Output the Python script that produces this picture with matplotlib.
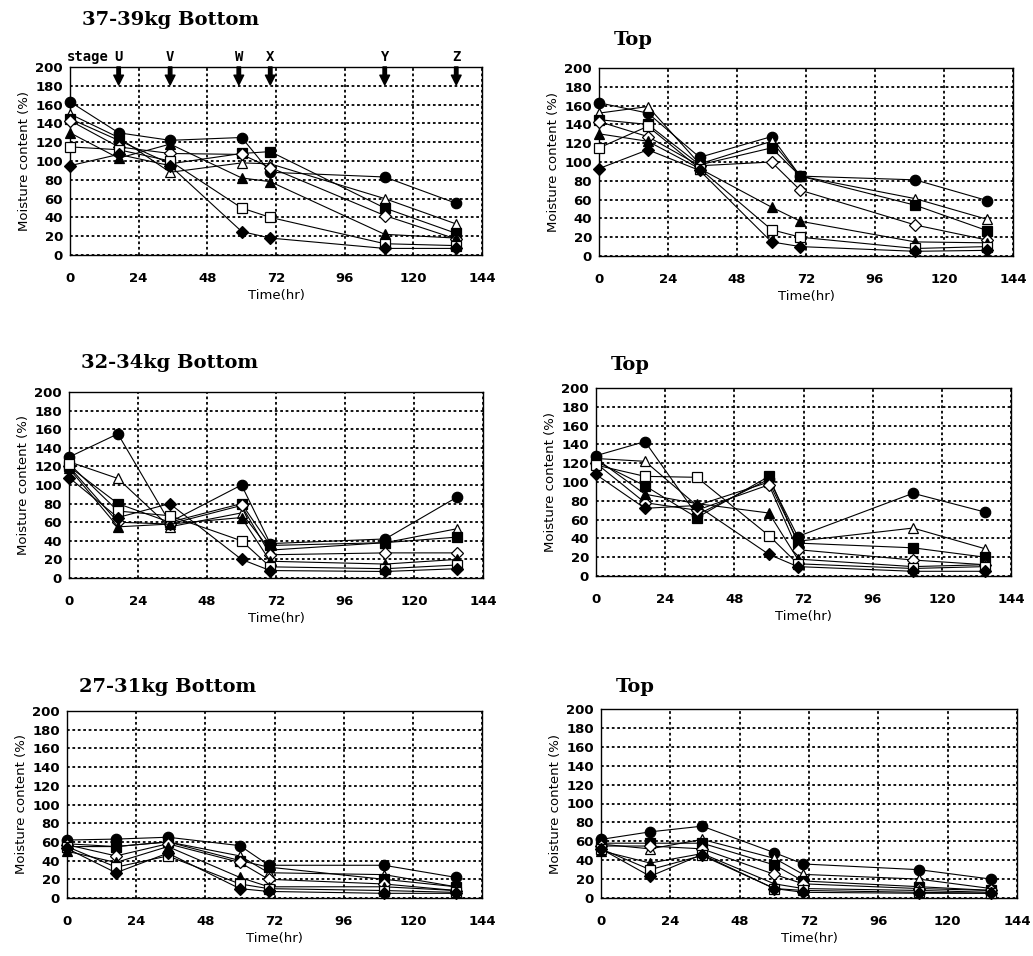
import numpy as np
import matplotlib.pyplot as plt

# sampling times (hr) for stages U..Z
hours = [0, 17, 35, 60, 70, 110, 135]
stages = ["U", "V", "W", "X", "Y", "Z"]
stage_hours = [17, 35, 59, 70, 110, 135]

markers = ["o", "^", "s", "D", "^", "s", "D"]
filled = [True, False, True, False, True, False, True]

# moisture content (%) per series, one block per panel
b37 = [[163, 130, 122, 125, 88, 83, 55],
       [150, 125, 88, 98, 97, 60, 33],
       [145, 122, 97, 108, 110, 50, 23],
       [143, 115, 108, 107, 93, 42, 17],
       [130, 103, 118, 82, 78, 22, 18],
       [115, 112, 100, 50, 40, 12, 10],
       [95, 107, 95, 25, 18, 7, 7]]
t37 = [[163, 152, 105, 127, 85, 81, 59],
       [152, 159, 98, 122, 85, 61, 39],
       [145, 140, 97, 115, 85, 54, 27],
       [143, 127, 96, 100, 70, 33, 17],
       [130, 122, 93, 52, 37, 15, 14],
       [115, 138, 93, 28, 20, 8, 10],
       [93, 113, 91, 15, 10, 5, 6]]
b32 = [[130, 155, 60, 100, 37, 42, 87],
       [125, 107, 55, 70, 30, 38, 53],
       [120, 80, 60, 80, 35, 38, 44],
       [120, 60, 58, 78, 25, 27, 27],
       [118, 55, 58, 65, 18, 15, 20],
       [123, 72, 67, 40, 12, 10, 14],
       [108, 65, 80, 20, 8, 7, 10]]
t32 = [[128, 143, 65, 103, 42, 88, 68],
       [125, 122, 75, 100, 37, 51, 29],
       [122, 96, 62, 106, 35, 30, 20],
       [120, 78, 70, 97, 28, 17, 12],
       [125, 87, 77, 67, 18, 10, 12],
       [118, 106, 105, 43, 13, 8, 10],
       [108, 72, 75, 23, 10, 5, 5]]
b27 = [[62, 63, 65, 56, 35, 35, 22],
       [55, 55, 60, 45, 27, 25, 12],
       [58, 55, 60, 40, 33, 20, 12],
       [57, 45, 58, 38, 20, 15, 8],
       [50, 38, 55, 22, 12, 12, 8],
       [55, 33, 45, 15, 10, 8, 6],
       [53, 27, 48, 10, 7, 5, 5]]
t27 = [[62, 70, 76, 48, 36, 30, 20],
       [57, 52, 62, 42, 25, 20, 10],
       [58, 58, 58, 35, 18, 12, 8],
       [55, 55, 52, 25, 15, 10, 8],
       [50, 37, 47, 15, 10, 8, 6],
       [52, 30, 45, 10, 8, 6, 5],
       [52, 23, 46, 10, 6, 5, 5]]

panels = [b37, t37, b32, t32, b27, t27]
titles = ["37-39kg Bottom", "Top", "32-34kg Bottom", "Top", "27-31kg Bottom", "Top"]

W, H = 1033, 956
# axes boxes in pixels: left, top, right, bottom
boxes = [(70, 67, 482, 255), (599, 68, 1013, 256),
         (69, 392, 483, 578), (596, 388, 1011, 576),
         (67, 711, 482, 898), (601, 709, 1017, 898)]
# title centre distance above axes, pixels
title_gap = [47, 28, 29, 23, 24, 22]

fig = plt.figure(figsize=(W / 100, H / 100), dpi=100)

for i, (data, title, box) in enumerate(zip(panels, titles, boxes)):
    l, t, r, b = box
    ax = fig.add_axes([l / W, 1 - b / H, (r - l) / W, (b - t) / H])
    for j, ys in enumerate(data):
        ax.plot(hours, ys, color="black", lw=0.8, marker=markers[j],
                markersize=7.5 if markers[j] != "D" else 6.5,
                markerfacecolor="black" if filled[j] else "white",
                markeredgecolor="black", markeredgewidth=0.9, clip_on=False, zorder=3)
    ax.set_xlim(0, 144)
    ax.set_ylim(0, 200)
    ax.set_xticks(range(0, 145, 24))
    ax.set_yticks(range(0, 201, 20))
    ax.grid(True, color="black", linestyle=(0, (1.5, 1.5)), linewidth=1.3)
    ax.tick_params(length=0, labelsize=9.5, pad=5)
    for lab in ax.get_xticklabels() + ax.get_yticklabels():
        lab.set_fontweight("bold")
    ax.xaxis.set_tick_params(pad=12)
    for s in ax.spines.values():
        s.set_linewidth(1.0)
    ax.set_ylabel("Moisture content (%)", fontsize=9.5, labelpad=3)
    ax.set_xlabel("Time(hr)", fontsize=9.5, labelpad=3)
    ax.text(0.03 if i % 2 == 0 else 0.035, 1.0 + title_gap[i] / (b - t), title,
            transform=ax.transAxes, fontsize=14, fontweight="bold",
            family="DejaVu Serif", va="center", ha="left")
    if i == 0:
        for st, h in zip(stages, stage_hours):
            ax.annotate("", xy=(h, 178), xytext=(h, 203),
                        arrowprops=dict(arrowstyle="simple,head_width=0.7,head_length=0.7,tail_width=0.25",
                                        color="black"), annotation_clip=False)
            ax.text(h, 203, st, ha="center", va="bottom", fontsize=10,
                    fontweight="bold", family="DejaVu Sans Mono")
        ax.text(-1, 203, "stage", ha="left", va="bottom", fontsize=10,
                fontweight="bold", family="DejaVu Sans Mono")

fig.savefig("out.png", dpi=100, facecolor="white")
